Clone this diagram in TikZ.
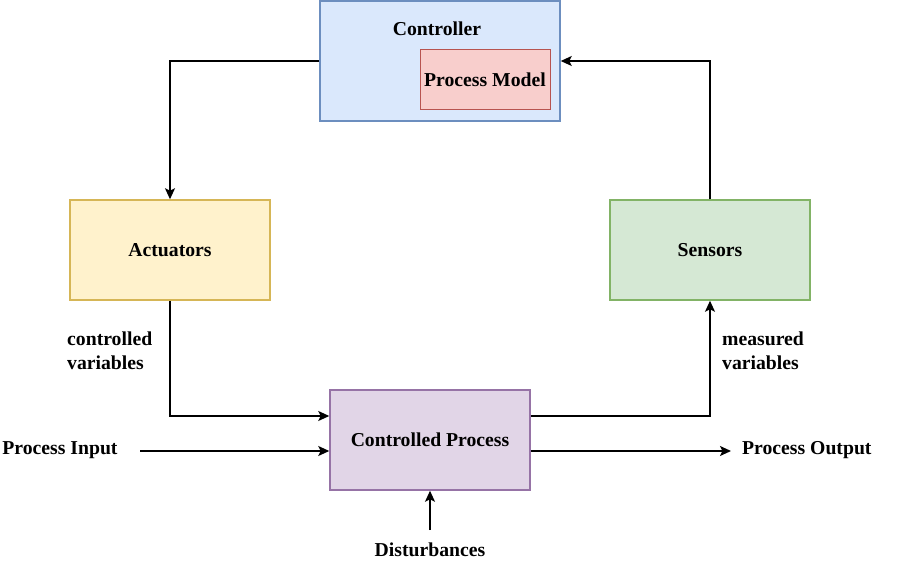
\documentclass[tikz,border=0pt]{standalone}
\usepackage{fontspec}
\setmainfont{Liberation Serif}
\usetikzlibrary{arrows.meta}
\definecolor{cfill}{HTML}{DAE8FC}\definecolor{cdraw}{HTML}{6C8EBF}
\definecolor{pfill}{HTML}{F8CECC}\definecolor{pdraw}{HTML}{B85450}
\definecolor{afill}{HTML}{FFF2CC}\definecolor{adraw}{HTML}{D6B656}
\definecolor{sfill}{HTML}{D5E8D4}\definecolor{sdraw}{HTML}{82B366}
\definecolor{qfill}{HTML}{E1D5E7}\definecolor{qdraw}{HTML}{9673A6}
\begin{document}
\begin{tikzpicture}[x=1pt,y=-1pt,
  box/.style={draw, line width=1.5pt, minimum width=200pt, minimum height=100pt, inner sep=0pt, font=\fontsize{19.7}{24}\selectfont\bfseries},
  lbl/.style={font=\fontsize{19.7}{24}\selectfont\bfseries, inner sep=0pt},
  conn/.style={line width=1.6pt, -{Stealth[length=11pt,width=10pt,inset=2.5pt]}}]
\useasboundingbox (0,0) rectangle (901,572);
\node[box, fill=cfill, draw=cdraw, minimum width=240pt, minimum height=120pt] (ctrl) at (440,61) {};
\node[lbl] (ctrlt) at (437,29) {Controller};
\node[box, fill=pfill, draw=pdraw, minimum width=130pt, minimum height=60pt, line width=1pt] (pm) at (485,80) {\raisebox{-1pt}{Process Model}};
\node[box, fill=afill, draw=adraw] (act) at (170,250) {\raisebox{-1pt}{Actuators}};
\node[box, fill=sfill, draw=sdraw] (sen) at (710,250) {\raisebox{-1pt}{Sensors}};
\node[box, fill=qfill, draw=qdraw] (proc) at (430,440) {\raisebox{-1pt}{Controlled Process}};
\node[lbl, anchor=west, align=left] (cv) at (67,351) {controlled\\variables};
\node[lbl, anchor=west, align=left] (mv) at (722,351) {measured\\variables};
\node[lbl] (pin) at (60,450.5) {Process Input};
\node[lbl, anchor=west] (pout) at (742,450.5) {Process Output};
\node[lbl] (dist) at (430,550) {Disturbances};
\coordinate (pinE) at (140,451);
\coordinate (poutW) at (731,451);
\coordinate (distN) at (430,530);
\draw[conn] (ctrl.west |- 0,61) -- (170,61) -- (act.north);
\draw[conn] (sen.north) -- (710,61) -- (ctrl.east |- 0,61);
\draw[conn] (act.south) -- (170,416) -- (proc.west |- 0,416);
\draw[conn] (proc.east |- 0,416) -- (710,416) -- (sen.south);
\draw[conn] (pinE) -- (proc.west |- 0,451);
\draw[conn] (proc.east |- 0,451) -- (poutW);
\draw[conn] (distN) -- (proc.south);
\end{tikzpicture}
\end{document}
